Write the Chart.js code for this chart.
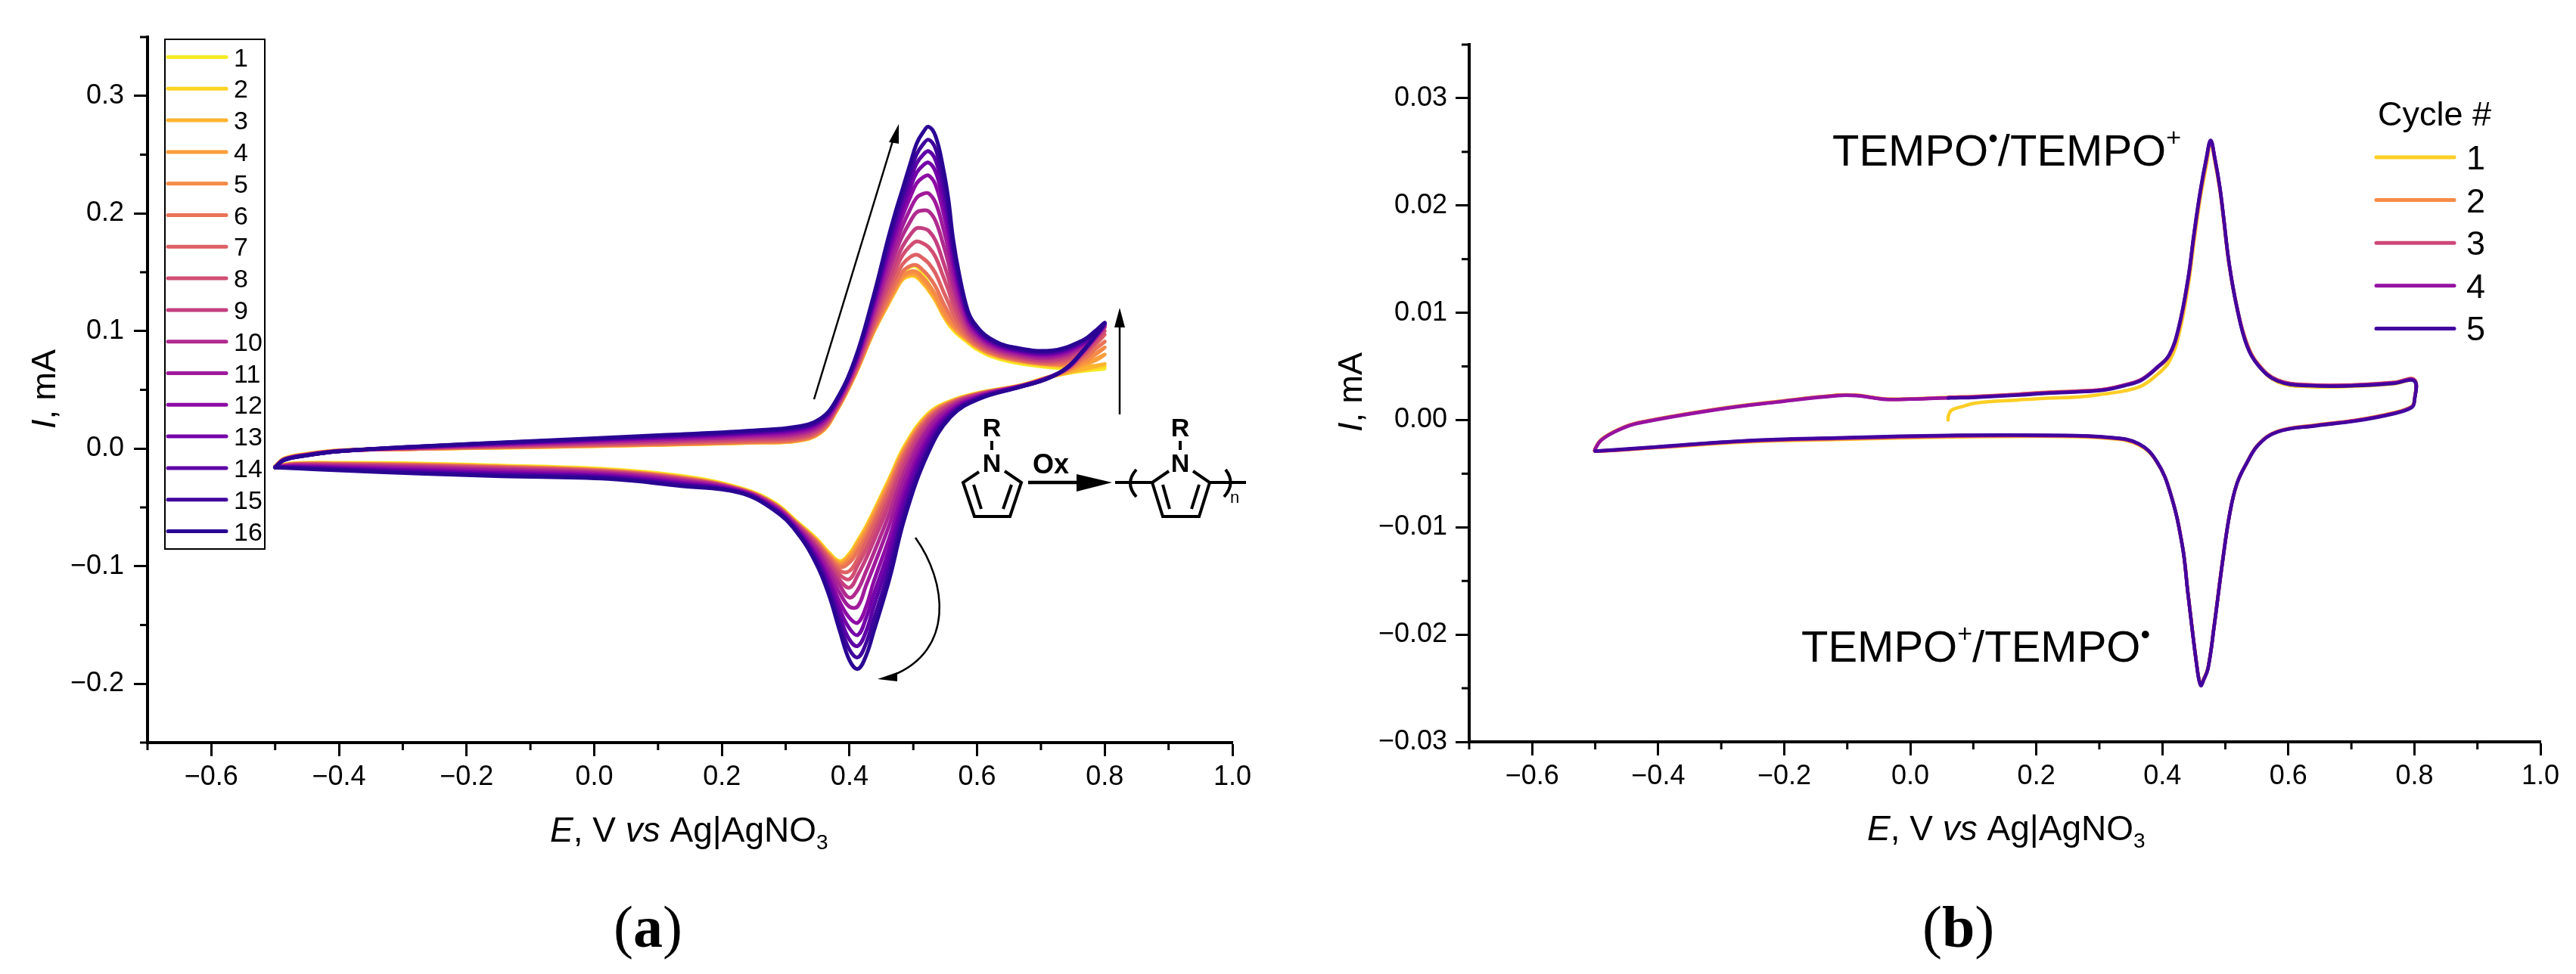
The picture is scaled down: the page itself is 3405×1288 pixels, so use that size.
<!DOCTYPE html>
<html>
<head>
<meta charset="utf-8">
<style>
    html, body { margin: 0; padding: 0; background: #fff; }
    canvas { position: absolute; top: 0; }
    #chart-a { left: 0; }
    #chart-b { left: 1700px; }
</style>
<script src="https://cdn.jsdelivr.net/npm/chart.js@4/dist/chart.umd.min.js"></script>
</head>
<body>
<canvas id="chart-a" width="1700" height="1288"></canvas>
<canvas id="chart-b" width="1705" height="1288"></canvas>
<script>
// Panel (a): potential sweep shared by all cycles
const potentialA = [
    -0.5, -0.486, -0.45, -0.4, -0.274, -0.105, 0.107, 0.25, 0.317, 0.354, 0.378, 0.408, 0.438, 0.46, 0.471, 0.483, 0.495,
    0.505, 0.515, 0.524, 0.535, 0.547, 0.555, 0.5625, 0.572, 0.585, 0.5955, 0.6195, 0.656, 0.717, 0.765, 0.785, 0.8,
    0.785, 0.765, 0.74, 0.708, 0.668, 0.602, 0.559, 0.523, 0.487, 0.463, 0.438, 0.426, 0.413, 0.4, 0.385, 0.3675, 0.3475,
    0.317, 0.281, 0.2265, 0.136, 0.022, -0.147, -0.274, -0.4, -0.47, -0.5,
];

// Panel (a): current per cycle, mA
const cycleA1 = [-0.0150,-0.0083,-0.0043,-0.0014,-0.0001,0.0012,0.0032,0.0050,0.0064,0.0132,0.0305,0.0620,0.1002,0.1245,0.1375,0.1490,0.1545,0.1548,0.1490,0.1400,0.1290,0.1140,0.1060,0.1010,0.0960,0.0905,0.0860,0.0790,0.0735,0.0690,0.0678,0.0680,0.0680,
    0.0672,0.0660,0.0640,0.0604,0.0539,0.0474,0.0407,0.0297,0.0030,-0.0248,-0.0532,-0.0662,-0.0782,-0.0892,-0.0957,-0.0882,-0.0762,-0.0618,-0.0455,-0.0330,-0.0232,-0.0175,-0.0144,-0.0127,-0.0121,-0.0124,-0.0150];
const cycleA2 = [-0.0154,-0.0087,-0.0047,-0.0017,-0.0002,0.0012,0.0033,0.0051,0.0065,0.0133,0.0305,0.0618,0.0992,0.1222,0.1332,0.1437,0.1468,0.1460,0.1406,0.1346,0.1256,0.1130,0.1065,0.1020,0.0970,0.0915,0.0870,0.0800,0.0745,0.0700,0.0688,0.0690,0.0700,
    0.0688,0.0668,0.0642,0.0602,0.0537,0.0471,0.0403,0.0291,0.0022,-0.0255,-0.0538,-0.0668,-0.0788,-0.0898,-0.0962,-0.0888,-0.0768,-0.0624,-0.0460,-0.0335,-0.0238,-0.0180,-0.0148,-0.0131,-0.0124,-0.0126,-0.0154];
const cycleA3 = [-0.0155,-0.0088,-0.0048,-0.0018,-0.0002,0.0013,0.0034,0.0052,0.0066,0.0135,0.0310,0.0624,0.1000,0.1230,0.1340,0.1445,0.1478,0.1470,0.1415,0.1355,0.1265,0.1140,0.1075,0.1030,0.0980,0.0925,0.0880,0.0810,0.0755,0.0712,0.0700,0.0705,0.0720,
    0.0700,0.0675,0.0645,0.0600,0.0535,0.0469,0.0400,0.0285,0.0014,-0.0264,-0.0545,-0.0675,-0.0795,-0.0905,-0.0967,-0.0895,-0.0775,-0.0630,-0.0466,-0.0340,-0.0244,-0.0185,-0.0152,-0.0135,-0.0127,-0.0128,-0.0155];
const cycleA4 = [-0.0155,-0.0088,-0.0048,-0.0018,-0.0002,0.0014,0.0035,0.0053,0.0067,0.0136,0.0311,0.0625,0.1003,0.1235,0.1347,0.1453,0.1487,0.1481,0.1428,0.1369,0.1279,0.1152,0.1085,0.1037,0.0985,0.0928,0.0882,0.0811,0.0756,0.0713,0.0715,0.0750,0.0800,
    0.0760,0.0710,0.0655,0.0600,0.0535,0.0468,0.0397,0.0278,0.0002,-0.0281,-0.0565,-0.0697,-0.0817,-0.0923,-0.0979,-0.0902,-0.0779,-0.0632,-0.0467,-0.0341,-0.0245,-0.0186,-0.0154,-0.0137,-0.0128,-0.0129,-0.0155];
const cycleA5 = [-0.0155,-0.0088,-0.0048,-0.0018,-0.0001,0.0015,0.0036,0.0055,0.0070,0.0139,0.0313,0.0628,0.1009,0.1246,0.1360,0.1468,0.1506,0.1504,0.1453,0.1396,0.1307,0.1177,0.1106,0.1052,0.0995,0.0933,0.0886,0.0814,0.0758,0.0716,0.0735,0.0800,0.0860,
    0.0805,0.0735,0.0662,0.0600,0.0535,0.0467,0.0395,0.0271,-0.0010,-0.0297,-0.0585,-0.0718,-0.0838,-0.0941,-0.0991,-0.0909,-0.0783,-0.0633,-0.0468,-0.0341,-0.0247,-0.0188,-0.0155,-0.0138,-0.0129,-0.0130,-0.0155];
const cycleA6 = [-0.0155,-0.0089,-0.0049,-0.0018,0.0000,0.0017,0.0040,0.0060,0.0076,0.0145,0.0317,0.0634,0.1024,0.1274,0.1392,0.1506,0.1553,0.1560,0.1517,0.1466,0.1377,0.1239,0.1159,0.1090,0.1020,0.0945,0.0895,0.0820,0.0764,0.0722,0.0760,0.0845,0.0910,
    0.0845,0.0760,0.0668,0.0599,0.0534,0.0466,0.0391,0.0262,-0.0028,-0.0323,-0.0616,-0.0751,-0.0871,-0.0968,-0.1008,-0.0919,-0.0789,-0.0635,-0.0470,-0.0342,-0.0249,-0.0190,-0.0158,-0.0140,-0.0131,-0.0131,-0.0156];
const cycleA7 = [-0.0156,-0.0090,-0.0050,-0.0019,0.0002,0.0021,0.0047,0.0068,0.0085,0.0154,0.0325,0.0644,0.1049,0.1318,0.1444,0.1567,0.1629,0.1650,0.1619,0.1576,0.1488,0.1338,0.1242,0.1150,0.1060,0.0966,0.0910,0.0831,0.0772,0.0732,0.0790,0.0890,0.0970,
    0.0885,0.0785,0.0672,0.0599,0.0534,0.0464,0.0386,0.0250,-0.0051,-0.0356,-0.0656,-0.0794,-0.0935,-0.1040,-0.1040,-0.0933,-0.0797,-0.0639,-0.0472,-0.0344,-0.0252,-0.0193,-0.0161,-0.0143,-0.0133,-0.0132,-0.0156];
const cycleA8 = [-0.0156,-0.0091,-0.0051,-0.0019,0.0004,0.0026,0.0055,0.0079,0.0097,0.0166,0.0334,0.0657,0.1079,0.1372,0.1510,0.1643,0.1723,0.1762,0.1746,0.1714,0.1628,0.1462,0.1347,0.1224,0.1110,0.0991,0.0929,0.0844,0.0783,0.0744,0.0815,0.0925,0.1000,
    0.0905,0.0795,0.0675,0.0598,0.0533,0.0461,0.0378,0.0232,-0.0087,-0.0406,-0.0717,-0.0860,-0.0990,-0.1110,-0.1075,-0.0955,-0.0809,-0.0643,-0.0475,-0.0346,-0.0257,-0.0197,-0.0166,-0.0148,-0.0137,-0.0135,-0.0156];
const cycleA9 = [-0.0157,-0.0092,-0.0052,-0.0020,0.0006,0.0031,0.0063,0.0089,0.0109,0.0178,0.0343,0.0670,0.1110,0.1427,0.1575,0.1719,0.1817,0.1874,0.1873,0.1853,0.1767,0.1586,0.1451,0.1299,0.1160,0.1017,0.0947,0.0856,0.0794,0.0756,0.0840,0.0945,0.1030,
    0.0930,0.0810,0.0678,0.0598,0.0533,0.0457,0.0370,0.0210,-0.0129,-0.0465,-0.0787,-0.0935,-0.1075,-0.1182,-0.1120,-0.0978,-0.0823,-0.0649,-0.0479,-0.0348,-0.0262,-0.0202,-0.0172,-0.0153,-0.0141,-0.0138,-0.0157];
const cycleA10 = [-0.0157,-0.0093,-0.0053,-0.0020,0.0009,0.0037,0.0073,0.0101,0.0124,0.0192,0.0354,0.0685,0.1146,0.1493,0.1653,0.1810,0.1930,0.2009,0.2026,0.2018,0.1934,0.1735,0.1577,0.1389,0.1220,0.1047,0.0970,0.0872,0.0807,0.0771,0.0860,0.0960,0.1040,
    0.0935,0.0815,0.0680,0.0597,0.0532,0.0452,0.0357,0.0178,-0.0188,-0.0548,-0.0888,-0.1044,-0.1200,-0.1268,-0.1167,-0.1012,-0.0843,-0.0657,-0.0484,-0.0351,-0.0269,-0.0209,-0.0180,-0.0161,-0.0147,-0.0142,-0.0157];
const cycleA11 = [-0.0158,-0.0094,-0.0054,-0.0021,0.0011,0.0043,0.0082,0.0113,0.0137,0.0205,0.0364,0.0700,0.1180,0.1553,0.1725,0.1894,0.2034,0.2132,0.2166,0.2170,0.2088,0.1872,0.1692,0.1471,0.1275,0.1075,0.0990,0.0886,0.0819,0.0785,0.0875,0.0970,0.1050,
    0.0945,0.0820,0.0681,0.0596,0.0531,0.0447,0.0343,0.0153,-0.0253,-0.0640,-0.1000,-0.1163,-0.1340,-0.1345,-0.1232,-0.1050,-0.0865,-0.0665,-0.0490,-0.0355,-0.0277,-0.0217,-0.0189,-0.0170,-0.0153,-0.0146,-0.0158];
const cycleA12 = [-0.0159,-0.0095,-0.0055,-0.0022,0.0013,0.0048,0.0091,0.0124,0.0150,0.0218,0.0374,0.0714,0.1214,0.1613,0.1797,0.1978,0.2137,0.2255,0.2306,0.2322,0.2241,0.2008,0.1807,0.1553,0.1330,0.1104,0.1011,0.0900,0.0831,0.0798,0.0885,0.0980,0.1055,
    0.0950,0.0820,0.0682,0.0596,0.0529,0.0441,0.0326,0.0107,-0.0331,-0.0749,-0.1131,-0.1345,-0.1480,-0.1440,-0.1308,-0.1095,-0.0891,-0.0675,-0.0497,-0.0359,-0.0287,-0.0227,-0.0200,-0.0180,-0.0161,-0.0151,-0.0158];
const cycleA13 = [-0.0159,-0.0096,-0.0056,-0.0022,0.0015,0.0052,0.0097,0.0132,0.0160,0.0228,0.0382,0.0724,0.1238,0.1657,0.1849,0.2039,0.2213,0.2345,0.2408,0.2433,0.2353,0.2107,0.1890,0.1613,0.1370,0.1124,0.1026,0.0911,0.0839,0.0808,0.0895,0.0985,0.1060,
    0.0950,0.0822,0.0683,0.0593,0.0528,0.0435,0.0312,0.0069,-0.0396,-0.0841,-0.1242,-0.1440,-0.1585,-0.1530,-0.1373,-0.1133,-0.0913,-0.0684,-0.0503,-0.0363,-0.0295,-0.0235,-0.0209,-0.0188,-0.0167,-0.0156,-0.0159];
const cycleA14 = [-0.0159,-0.0097,-0.0057,-0.0022,0.0017,0.0056,0.0103,0.0140,0.0168,0.0236,0.0388,0.0733,0.1259,0.1695,0.1895,0.2092,0.2279,0.2424,0.2497,0.2530,0.2451,0.2194,0.1963,0.1665,0.1405,0.1142,0.1039,0.0920,0.0847,0.0817,0.0905,0.0990,0.1065,
    0.0955,0.0823,0.0684,0.0592,0.0527,0.0430,0.0300,0.0034,-0.0455,-0.0925,-0.1343,-0.1555,-0.1678,-0.1625,-0.1432,-0.1168,-0.0933,-0.0692,-0.0509,-0.0366,-0.0302,-0.0242,-0.0217,-0.0196,-0.0173,-0.0160,-0.0159];
const cycleA15 = [-0.0160,-0.0097,-0.0057,-0.0023,0.0018,0.0059,0.0109,0.0147,0.0176,0.0244,0.0395,0.0742,0.1281,0.1733,0.1941,0.2145,0.2345,0.2502,0.2586,0.2627,0.2548,0.2281,0.2036,0.1717,0.1440,0.1160,0.1052,0.0929,0.0854,0.0825,0.0912,0.0995,0.1068,
    0.0958,0.0825,0.0685,0.0591,0.0526,0.0425,0.0286,-0.0005,-0.0521,-0.1016,-0.1454,-0.1655,-0.1775,-0.1710,-0.1496,-0.1205,-0.0955,-0.0700,-0.0515,-0.0370,-0.0311,-0.0250,-0.0226,-0.0204,-0.0179,-0.0164,-0.0160];
const cycleA16 = [-0.0160,-0.0098,-0.0058,-0.0023,0.0020,0.0063,0.0115,0.0155,0.0186,0.0254,0.0402,0.0752,0.1305,0.1777,0.1993,0.2206,0.2420,0.2592,0.2688,0.2737,0.2655,0.2380,0.2120,0.1777,0.1480,0.1180,0.1067,0.0939,0.0863,0.0835,0.0920,0.1000,0.1070,
    0.0960,0.0825,0.0685,0.0590,0.0525,0.0420,0.0273,-0.0040,-0.0580,-0.1100,-0.1555,-0.1760,-0.1874,-0.1800,-0.1555,-0.1240,-0.0975,-0.0708,-0.0520,-0.0373,-0.0318,-0.0257,-0.0234,-0.0212,-0.0185,-0.0168,-0.0160];

const cyclesA = [cycleA1, cycleA2, cycleA3, cycleA4, cycleA5, cycleA6, cycleA7, cycleA8, cycleA9, cycleA10, cycleA11, cycleA12, cycleA13, cycleA14, cycleA15, cycleA16];
const cycleLabelsA = ["1", "2", "3", "4", "5", "6", "7", "8", "9", "10", "11", "12", "13", "14", "15", "16"];
const cycleColorsA = ["#F5EB27", "#FDD324", "#FDB42F", "#FA9E3B", "#F58B47", "#EA7457", "#DE6164", "#D14E72", "#C43E80", "#B02A8F", "#A01A9C", "#8D0BA5", "#7401A8", "#5D01A6", "#3F049C", "#2A0593"];

// Panel (b): potential sweep, starts at open circuit
const potentialB = [
    0.06, 0.0605, 0.065, 0.08, 0.104, 0.171, 0.213, 0.266, 0.306, 0.34, 0.367, 0.392, 0.411, 0.426, 0.441, 0.45, 0.46, 0.47, 0.4767,
    0.483, 0.491, 0.497, 0.506, 0.5185, 0.534, 0.5525, 0.583, 0.633, 0.706, 0.768, 0.8,
    0.8, 0.796, 0.768, 0.706, 0.645, 0.583, 0.5525, 0.534, 0.5185, 0.507, 0.4953, 0.4825, 0.4725, 0.465, 0.461, 0.456, 0.4406, 0.4319,
    0.4128, 0.391, 0.3625, 0.3147, 0.2185, 0.075, -0.117, -0.26, -0.404, -0.5,
    -0.5, -0.49, -0.461, -0.432, -0.307, -0.21, -0.115, -0.086, -0.06, -0.038, 0.0, 0.063,
];

// Panel (b): current per cycle, mA. Cycle 5 stops at the negative vertex
const cycleB1 = [0.0,0.0004,0.0009,0.00122,0.00158,0.00187,0.00203,0.00215,0.00242,0.00272,0.00318,0.00425,0.00545,0.0079,0.0125,0.0165,0.0206,0.0238,0.0258,0.0242,0.0215,0.0188,0.0145,0.0104,0.0071,0.0051,0.00355,0.00312,0.00315,0.00338,0.00365,
    0.0019,0.0013,0.0007,-0.00002,-0.00045,-0.00105,-0.00225,-0.004,-0.0059,-0.0087,-0.01325,-0.01902,-0.02305,-0.0242,-0.02465,-0.0234,-0.0161,-0.01175,-0.0068,-0.0039,-0.00232,-0.00172,-0.00152,-0.00158,-0.00182,-0.00205,-0.00258,-0.0029,
    -0.00265,-0.0018,-0.00082,-0.00024,0.00103,0.00174,0.00233,0.00232,0.00212,0.00196,0.00198,0.00212];
const cycleB2 = [0.00214,0.00214,0.00215,0.00216,0.00221,0.00242,0.00258,0.00272,0.00286,0.00326,0.00376,0.00485,0.00595,0.00845,0.013,0.017,0.021,0.0242,0.026,0.0244,0.0217,0.0189,0.0145,0.0105,0.0072,0.0052,0.00375,0.0033,0.0033,0.00352,0.00378,
    0.00188,0.00126,0.00068,-0.00003,-0.00047,-0.00106,-0.00226,-0.004,-0.0059,-0.0087,-0.01327,-0.01905,-0.0231,-0.02425,-0.0247,-0.02345,-0.01612,-0.01176,-0.00682,-0.00388,-0.00226,-0.00166,-0.00148,-0.00152,-0.00176,-0.002,-0.00256,-0.0029,
    -0.00266,-0.00181,-0.00083,-0.00025,0.00102,0.00173,0.00232,0.00231,0.00211,0.00195,0.00197,0.00211];
const cycleB3 = [0.00212,0.00212,0.00213,0.00214,0.00219,0.0024,0.00256,0.0027,0.00285,0.00328,0.0038,0.00493,0.00604,0.00855,0.0131,0.0171,0.0211,0.0243,0.02602,0.0244,0.0217,0.0189,0.0145,0.0105,0.0071,0.00515,0.00372,0.00328,0.00328,0.0035,0.00374,
    0.00184,0.00124,0.00066,-0.00004,-0.00048,-0.00107,-0.00228,-0.004,-0.0059,-0.0087,-0.01328,-0.01906,-0.02312,-0.02428,-0.02472,-0.02347,-0.01614,-0.01177,-0.00682,-0.00386,-0.00224,-0.00164,-0.00146,-0.00148,-0.00172,-0.00197,-0.00254,-0.0029,
    -0.00268,-0.00183,-0.00085,-0.00027,0.00100,0.00171,0.0023,0.0023,0.0021,0.00194,0.00196,0.0021];
const cycleB4 = [0.00208,0.00208,0.00209,0.0021,0.00215,0.00236,0.00252,0.00266,0.00282,0.00325,0.00378,0.00495,0.00608,0.00862,0.0132,0.0172,0.0212,0.0244,0.02605,0.0245,0.0218,0.019,0.0146,0.0105,0.007,0.0051,0.00368,0.00325,0.00325,0.00347,0.0037,
    0.0018,0.00122,0.00064,-0.00006,-0.0005,-0.00108,-0.0023,-0.004,-0.0059,-0.0087,-0.0133,-0.01908,-0.02314,-0.02429,-0.02474,-0.02349,-0.01615,-0.01178,-0.00683,-0.00385,-0.00222,-0.00162,-0.00144,-0.00145,-0.00169,-0.00194,-0.00252,-0.0029,
    -0.0027,-0.00185,-0.00088,-0.0003,0.00097,0.00168,0.00227,0.00227,0.00208,0.00192,0.00195,0.00208];
const cycleB5 = [0.00205,0.00205,0.00206,0.00207,0.00212,0.00232,0.00248,0.00262,0.00278,0.0032,0.00372,0.0049,0.0061,0.00867,0.0133,0.0173,0.0213,0.0245,0.02608,0.0245,0.0218,0.019,0.0146,0.0104,0.00694,0.00506,0.00363,0.0032,0.0032,0.00342,0.00363,
    0.00176,0.00118,0.0006,-0.0001,-0.00053,-0.0011,-0.0023,-0.004,-0.0059,-0.0087,-0.0133,-0.0191,-0.02315,-0.0243,-0.02475,-0.0235,-0.01616,-0.01178,-0.00683,-0.00384,-0.0022,-0.0016,-0.00142,-0.00142,-0.00166,-0.00192,-0.0025,-0.0029];

const cyclesB = [cycleB1, cycleB2, cycleB3, cycleB4, cycleB5];
const cycleLabelsB = ["1", "2", "3", "4", "5"];
const cycleColorsB = ["#FCCE25", "#F58B47", "#CC4778", "#9512A1", "#42049E"];

// Tick labels, other tick positions stay unlabelled
const xTickLabels = [-0.6, -0.4, -0.2, 0.0, 0.2, 0.4, 0.6, 0.8, 1.0];
const yTickLabelsA = [-0.2, -0.1, 0.0, 0.1, 0.2, 0.3];
const yTickLabelsB = [-0.03, -0.02, -0.01, 0.0, 0.01, 0.02, 0.03];

const sansFont = '"Liberation Sans", Arial, sans-serif';
const serifFont = '"Liberation Serif", "Times New Roman", serif';

// Builds the callback that prints only the labelled ticks
function tickText(labels, digits) {
    return function (value) {
        const hit = labels.find((l) => Math.abs(l - value) < 1e-6);
        if (hit === undefined) {
            return "";
        }
        return hit.toFixed(digits).replace("-", "\u2212");
    };
}

function buildDatasets(cycles, potential, labels, colors, lineWidth) {
    return cycles.map((cycle, i) => ({
        label: labels[i],
        data: cycle.map((current, k) => ({ x: potential[k], y: current })),
        borderColor: colors[i],
        borderWidth: lineWidth,
        borderCapStyle: "round",
        borderJoinStyle: "round",
        pointRadius: 0,
        tension: 0.4,
        fill: false,
        clip: false,
        // Later cycles are drawn on top
        order: cycles.length - i,
    }));
}

function axis(min, max, step, labels, digits, padding, fitKey, fitSize) {
    return {
        type: "linear",
        min: min,
        max: max,
        border: { display: true, color: "#000", width: 4 },
        grid: {
            drawOnChartArea: false,
            tickLength: 18,
            tickWidth: 3,
            tickColor: (c) => (c.tick && c.tick.label ? "#000" : "rgba(0,0,0,0)"),
        },
        ticks: {
            stepSize: step,
            autoSkip: false,
            maxRotation: 0,
            color: "#000",
            padding: padding,
            font: { family: sansFont, size: 36 },
            callback: tickText(labels, digits),
        },
        afterFit: (scale) => {
            scale[fitKey] = fitSize;
        },
    };
}

// Text made of several styled pieces, returns the end x
function drawRuns(ctx, x, y, runs, size, family) {
    ctx.textAlign = "left";
    ctx.textBaseline = "alphabetic";
    ctx.fillStyle = "#000";
    runs.forEach((run) => {
        const runSize = run.size || size;
        ctx.font = (run.style || "") + " " + runSize + "px " + (family || sansFont);
        ctx.fillText(run.text, x, y + (run.dy || 0));
        x += ctx.measureText(run.text).width;
    });
    return x;
}

function line(ctx, x1, y1, x2, y2, width) {
    ctx.lineWidth = width;
    ctx.beginPath();
    ctx.moveTo(x1, y1);
    ctx.lineTo(x2, y2);
    ctx.stroke();
}

function head(ctx, tipX, tipY, ax, ay, bx, by) {
    ctx.beginPath();
    ctx.moveTo(tipX, tipY);
    ctx.lineTo(ax, ay);
    ctx.lineTo(bx, by);
    ctx.closePath();
    ctx.fill();
}

// Short ticks, the library only has one tick length per axis
const minorTicks = {
    id: "minorTicks",
    afterDraw(chart) {
        const ctx = chart.ctx;
        const { x, y } = chart.scales;
        ctx.save();
        ctx.strokeStyle = "#000";
        x.ticks.forEach((tick) => {
            if (!tick.label) {
                const px = x.getPixelForValue(tick.value);
                line(ctx, px, x.top, px, x.top + 10, 3);
            }
        });
        y.ticks.forEach((tick) => {
            if (!tick.label) {
                const py = y.getPixelForValue(tick.value);
                line(ctx, y.right - 10, py, y.right, py, 3);
            }
        });
        ctx.restore();
    },
};

function drawPyrrole(ctx, points, inner1, inner2, nx) {
    ctx.beginPath();
    points.forEach((p, i) => (i ? ctx.lineTo(p[0], p[1]) : ctx.moveTo(p[0], p[1])));
    ctx.stroke();
    line(ctx, inner1[0], inner1[1], inner1[2], inner1[3], 4);
    line(ctx, inner2[0], inner2[1], inner2[2], inner2[3], 4);
    line(ctx, nx, 583, nx, 595, 4);
    ctx.textAlign = "center";
    ctx.font = "bold 34px " + sansFont;
    ctx.fillText("R", nx, 577);
    ctx.fillText("N", nx, 624);
}

// Panel (a): legend box, axis titles, arrows and the reaction scheme
const panelA = {
    id: "panelA",
    afterDraw(chart) {
        const ctx = chart.ctx;
        ctx.save();
        ctx.strokeStyle = "#000";
        ctx.fillStyle = "#000";
        ctx.lineWidth = 2;
        ctx.strokeRect(218, 52, 132, 674);
        cycleLabelsA.forEach((label, i) => {
            const y = 75.5 + i * 41.8;
            ctx.strokeStyle = cycleColorsA[i];
            ctx.lineCap = "round";
            line(ctx, 222, y, 299, y, 5);
            drawRuns(ctx, 309, y + 12, [{ text: label }], 34);
        });
        ctx.strokeStyle = "#000";
        ctx.lineCap = "butt";

        drawRuns(ctx, 727, 1113, [
            { text: "E", style: "italic" }, { text: ", V " }, { text: "vs", style: "italic" },
            { text: " Ag|AgNO" }, { text: "3", size: 28, dy: 10 },
        ], 46);
        ctx.save();
        ctx.translate(73, 567);
        ctx.rotate(-Math.PI / 2);
        drawRuns(ctx, 0, 0, [{ text: "I", style: "italic" }, { text: ", mA" }], 45);
        ctx.restore();
        drawRuns(ctx, 811, 1252, [{ text: "(" }, { text: "a", style: "bold" }, { text: ")" }], 78, serifFont);

        // Growth arrows
        line(ctx, 1076, 528, 1182, 180, 2.5);
        head(ctx, 1188, 164, 1175, 188, 1188, 190);
        line(ctx, 1480, 548, 1480, 425, 2.5);
        head(ctx, 1480, 407, 1473, 433, 1487, 433);
        ctx.lineWidth = 2.5;
        ctx.beginPath();
        ctx.moveTo(1210, 711);
        ctx.bezierCurveTo(1252, 770, 1262, 860, 1180, 893);
        ctx.stroke();
        head(ctx, 1160, 898, 1186, 889, 1186, 901);

        // Reaction scheme
        ctx.lineWidth = 4;
        ctx.lineJoin = "miter";
        drawPyrrole(ctx, [[1294, 624], [1273, 638], [1288, 683], [1335, 683], [1350, 638], [1328, 623]],
            [1287, 641, 1297, 673], [1337, 641, 1326, 673], 1311);
        line(ctx, 1359, 638, 1440, 638, 4.5);
        head(ctx, 1470, 638, 1423, 627, 1423, 650);
        ctx.textAlign = "center";
        ctx.font = "bold 36px " + sansFont;
        ctx.fillText("Ox", 1389, 626);
        line(ctx, 1474, 638, 1523, 638, 4);
        drawPyrrole(ctx, [[1545, 623], [1523, 638], [1537, 683], [1585, 683], [1599, 638], [1577, 623]],
            [1537, 641, 1546, 673], [1585, 641, 1575, 673], 1560);
        line(ctx, 1599, 638, 1647, 638, 4);
        ctx.lineWidth = 4;
        ctx.beginPath();
        ctx.moveTo(1502, 621);
        ctx.quadraticCurveTo(1486, 639, 1502, 657);
        ctx.stroke();
        ctx.beginPath();
        ctx.moveTo(1620, 621);
        ctx.quadraticCurveTo(1634, 639, 1618, 657);
        ctx.stroke();
        ctx.textAlign = "left";
        ctx.font = "22px " + sansFont;
        ctx.fillText("n", 1626, 665);
        ctx.restore();
    },
};

// Panel (b): page coordinates, the canvas starts at x = 1700
const panelB = {
    id: "panelB",
    afterDraw(chart) {
        const ctx = chart.ctx;
        ctx.save();
        ctx.translate(-1700, 0);
        drawRuns(ctx, 3143, 166, [{ text: "Cycle #" }], 45);
        cycleLabelsB.forEach((label, i) => {
            const y = 208 + i * 56.6;
            ctx.strokeStyle = cycleColorsB[i];
            ctx.lineCap = "round";
            line(ctx, 3141, y, 3244, y, 5);
            drawRuns(ctx, 3260, y + 16, [{ text: label }], 45);
        });
        drawRuns(ctx, 2422, 219, [
            { text: "TEMPO" }, { text: "\u2022", size: 36, dy: -24 }, { text: "/TEMPO" }, { text: "+", size: 34, dy: -26 },
        ], 58);
        drawRuns(ctx, 2381, 875, [
            { text: "TEMPO" }, { text: "+", size: 34, dy: -26 }, { text: "/TEMPO" }, { text: "\u2022", size: 36, dy: -24 },
        ], 58);
        drawRuns(ctx, 2468, 1111, [
            { text: "E", style: "italic" }, { text: ", V " }, { text: "vs", style: "italic" },
            { text: " Ag|AgNO" }, { text: "3", size: 28, dy: 10 },
        ], 46);
        ctx.save();
        ctx.translate(1800, 571);
        ctx.rotate(-Math.PI / 2);
        drawRuns(ctx, 0, 0, [{ text: "I", style: "italic" }, { text: ", mA" }], 45);
        ctx.restore();
        drawRuns(ctx, 2541, 1252, [{ text: "(" }, { text: "b", style: "bold" }, { text: ")" }], 78, serifFont);
        ctx.restore();
    },
};

new Chart(document.getElementById("chart-a"), {
    type: "line",
    data: { datasets: buildDatasets(cyclesA, potentialA, cycleLabelsA, cycleColorsA, 5) },
    options: {
        responsive: false,
        animation: false,
        parsing: false,
        layout: { padding: { top: 49, right: 71, left: 0, bottom: 0 } },
        scales: {
            x: axis(-0.7, 1.0, 0.1, xTickLabels, 1, 6, "height", 306),
            y: axis(-0.25, 0.35, 0.05, yTickLabelsA, 1, 13, "width", 195),
        },
        plugins: { legend: { display: false }, tooltip: { enabled: false } },
    },
    plugins: [minorTicks, panelA],
});

new Chart(document.getElementById("chart-b"), {
    type: "line",
    data: { datasets: buildDatasets(cyclesB, potentialB, cycleLabelsB, cycleColorsB, 4.5) },
    options: {
        responsive: false,
        animation: false,
        parsing: false,
        layout: { padding: { top: 59, right: 47, left: 0, bottom: 0 } },
        scales: {
            x: axis(-0.7, 1.0, 0.1, xTickLabels, 1, 6, "height", 307),
            y: axis(-0.03, 0.035, 0.005, yTickLabelsB, 2, 11, "width", 242),
        },
        plugins: { legend: { display: false }, tooltip: { enabled: false } },
    },
    plugins: [minorTicks, panelB],
});
</script>
</body>
</html>
